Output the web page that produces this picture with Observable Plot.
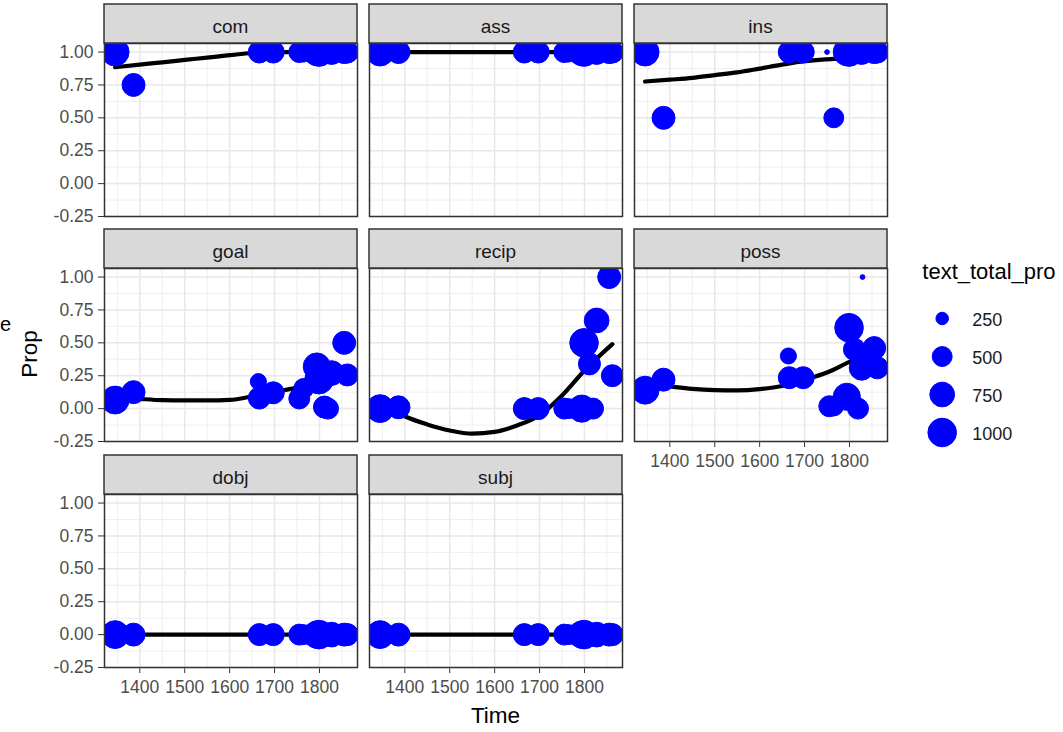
<!DOCTYPE html>
<html><head><meta charset="utf-8">
<script src="https://cdn.jsdelivr.net/npm/d3@7"></script>
<script src="https://cdn.jsdelivr.net/npm/@observablehq/plot@0.6"></script>
<style>
html,body{margin:0;padding:0;background:#fff;}
#chart{position:relative;width:1063px;height:732px;overflow:hidden;background:#fff;font-family:"Liberation Sans",Arial,sans-serif;}
.panel{position:absolute;}
.panel svg text{fill:#4d4d4d;font-size:17.5px;}
.legend{position:absolute;}
.legend svg text{fill:#1a1a1a;font-size:18px;}
</style></head><body><div id="chart"></div>
<script>
// ---------- data ----------
const facetNames = ["com", "ass", "ins", "goal", "recip", "poss", "dobj", "subj"];
const textYear      = [1345, 1386, 1664, 1666, 1697, 1750, 1755, 1765, 1794, 1799, 1811, 1819, 1827, 1829, 1855, 1862];
const textTotalProp = [ 950,  650,  350,  600,  600,  162,  550,  500,  900, 1000,  600,  550,  750,  162,  650,  600];

const propCom   = [1, 0.75, 1, 1, 1, 1, 1, 1, 1, 1, 1, 1, 1, 1, 1, 1];
const propAss   = [1, 1, 1, 1, 1, 1, 1, 1, 1, 1, 1, 1, 1, 1, 1, 1];
const propIns   = [1, 0.5, 1, 1, 1, 1, null, 0.5, 1, 1, 1, 1, 1, 1, 1, 1];
const propGoal  = [0.065, 0.125, 0.205, 0.08, 0.12, 0.077, 0.077, 0.154, 0.32, 0.22, 0.012, 0.0, 0.27, 0.27, 0.5, 0.256];
const propRecip = [0, 0.01, 0, 0, 0, 0, 0, 0, 0, 0.5, 0.34, 0, 0.67, 0, 1.0, 0.25];
const propPoss  = [0.14, 0.22, 0.40, 0.235, 0.235, 0.018, 0.018, 0.02, 0.09, 0.615, 0.45, 0.0, 0.31, 1.0, 0.46, 0.31];
const propDobj  = [0, 0, 0, 0, 0, 0, 0, 0, 0, 0, 0, 0, 0, 0, 0, 0];
const propSubj  = [0, 0, 0, 0, 0, 0, 0, 0, 0, 0, 0, 0, 0, 0, 0, 0];

// smooth fits
const smoothYear   = [1345, 1400, 1450, 1500, 1550, 1600, 1650, 1700, 1750, 1800, 1862];
const smoothCom    = [0.885, 0.905, 0.922, 0.94, 0.958, 0.976, 0.993, 1.0, 1.0, 1.0, 1.0];
const smoothAss    = [1, 1, 1, 1, 1, 1, 1, 1, 1, 1, 1];
const smoothIns    = [0.776, 0.79, 0.804, 0.825, 0.845, 0.874, 0.904, 0.93, 0.945, 0.955, 0.962];
const smoothGoal   = [0.088, 0.074, 0.064, 0.062, 0.062, 0.066, 0.093, 0.127, 0.16, 0.215, 0.29];
const smoothRecip  = [0.05, -0.058, -0.12, -0.166, -0.19, -0.177, -0.128, -0.05, 0.1, 0.29, 0.49];
const smoothPoss   = [0.19, 0.168, 0.15, 0.141, 0.139, 0.148, 0.172, 0.22, 0.275, 0.355, 0.44];
const smoothDobj   = [0, 0, 0, 0, 0, 0, 0, 0, 0, 0, 0];
const smoothSubj   = [0, 0, 0, 0, 0, 0, 0, 0, 0, 0, 0];

const majorX = [1400, 1500, 1600, 1700, 1800];
const minorX = [1350, 1450, 1550, 1650, 1750, 1850];
const majorY = [-0.25, 0, 0.25, 0.5, 0.75, 1.0];
const minorY = [-0.125, 0.125, 0.375, 0.625, 0.875];
const legendBreaks = [250, 500, 750, 1000];

const facetProps  = [propCom, propAss, propIns, propGoal, propRecip, propPoss, propDobj, propSubj];
const facetSmooth = [smoothCom, smoothAss, smoothIns, smoothGoal, smoothRecip, smoothPoss, smoothDobj, smoothSubj];

// ---------- layout ----------
const chart = document.getElementById("chart");
const ML = 60, MR = 4, MT = 2, MB = 45;
const PW = 253, PH = 173, STRIP = 39;
const colLeft = [104, 369, 634];
const rowTop = [43, 268, 494];
const xDomain = [1321.4, 1884.6];
const yDomain = [-0.25, 1.065];
const BLUE = "#0000ff";

const sizeMin = d3.min(textTotalProp), sizeMax = d3.max(textTotalProp);
const rOf = v => Math.sqrt(Math.max(0, v - sizeMin));
const rScale = {type: "linear", domain: [0, rOf(sizeMax)], range: [2.4, 14.3]};

const fontStyle = {fontFamily: "'Liberation Sans', Arial, sans-serif", fontSize: "17.5px", color: "#333333", background: "transparent", overflow: "visible"};

facetNames.forEach((name, i) => {
  const col = i % 3, row = Math.floor(i / 3);
  const showY = col === 0;
  const showX = i >= 5;
  const props = facetProps[i];
  const pts = textYear.map((t, j) => ({time: t, prop: props[j], size: textTotalProp[j]})).filter(d => d.prop != null);
  const sm = smoothYear.map((t, j) => ({time: t, prop: facetSmooth[i][j]}));
  const plot = Plot.plot({
    width: ML + PW + MR, height: MT + PH + MB,
    marginLeft: ML, marginRight: MR, marginTop: MT, marginBottom: MB,
    style: fontStyle,
    x: {domain: xDomain, ticks: majorX, tickFormat: d => String(d), tickSize: 6, tickPadding: 7, label: null, axis: showX ? "bottom" : null},
    y: {domain: yDomain, ticks: majorY, tickFormat: d => d.toFixed(2), tickSize: 6, tickPadding: 5, label: null, axis: showY ? "left" : null},
    r: rScale,
    marks: [
      Plot.ruleX(minorX, {stroke: "#ededed", strokeWidth: 0.9}),
      Plot.ruleY(minorY, {stroke: "#ededed", strokeWidth: 0.9}),
      Plot.ruleX(majorX, {stroke: "#e8e8e8", strokeWidth: 1.5}),
      Plot.ruleY(majorY, {stroke: "#e8e8e8", strokeWidth: 1.5}),
      Plot.line(sm, {x: "time", y: "prop", stroke: "black", strokeWidth: 4.2, curve: "monotone-x", clip: true}),
      Plot.dot(pts, {x: "time", y: "prop", r: d => rOf(d.size), fill: BLUE, stroke: BLUE, strokeWidth: 1, clip: true}),
      Plot.frame({stroke: "#333333", strokeWidth: 1.5})
    ]
  });
  const div = document.createElement("div");
  div.className = "panel";
  div.style.left = (colLeft[col] - ML) + "px";
  div.style.top = (rowTop[row] - MT) + "px";
  div.appendChild(plot);
  chart.appendChild(div);
});

// ---------- legend ----------
const legendPlot = Plot.plot({
  width: 120, height: 155, margin: 0,
  style: {fontFamily: "'Liberation Sans', Arial, sans-serif", fontSize: "18px", background: "transparent", overflow: "visible"},
  x: {domain: [0, 120], axis: null},
  y: {type: "band", domain: legendBreaks.map(String), padding: 0, axis: null},
  r: rScale,
  marks: [
    Plot.dot(legendBreaks, {x: () => 29.7, y: d => String(d), r: d => rOf(d), fill: BLUE, stroke: BLUE, strokeWidth: 1}),
    Plot.text(legendBreaks, {x: () => 59.7, y: d => String(d), text: d => String(d), textAnchor: "start", dy: 2, fill: "#1a1a1a"})
  ]
});
const lg = document.createElement("div");
lg.className = "legend";
lg.style.left = "912px";
lg.style.top = "296.6px";
lg.appendChild(legendPlot);
chart.appendChild(lg);

// ---------- strips & titles ----------
const svg = d3.select(chart).append("svg")
  .attr("width", 1063).attr("height", 732)
  .style("position", "absolute").style("left", 0).style("top", 0)
  .style("pointer-events", "none")
  .style("font-family", "'Liberation Sans', Arial, sans-serif");

facetNames.forEach((name, i) => {
  const col = i % 3, row = Math.floor(i / 3);
  const x0 = colLeft[col], y0 = rowTop[row] - STRIP;
  svg.append("rect").attr("x", x0).attr("y", y0).attr("width", PW).attr("height", STRIP)
    .attr("fill", "#d9d9d9").attr("stroke", "#333333").attr("stroke-width", 1.5);
  svg.append("text").attr("x", x0 + PW / 2).attr("y", y0 + 29)
    .attr("text-anchor", "middle").attr("font-size", 19).attr("fill", "#1a1a1a").text(name);
});

svg.append("text").attr("x", 36.7).attr("y", 354).attr("transform", "rotate(-90 36.7 354)")
  .attr("text-anchor", "middle").attr("font-size", 22.5).attr("fill", "#000").text("Prop");
svg.append("text").attr("x", 495.5).attr("y", 723)
  .attr("text-anchor", "middle").attr("font-size", 22.5).attr("fill", "#000").text("Time");
svg.append("text").attr("x", 922.3).attr("y", 279)
  .attr("font-size", 22).attr("fill", "#000").text("text_total_pro");
svg.append("text").attr("x", 0).attr("y", 331)
  .attr("font-size", 20).attr("fill", "#000").text("e");
</script></body></html>
